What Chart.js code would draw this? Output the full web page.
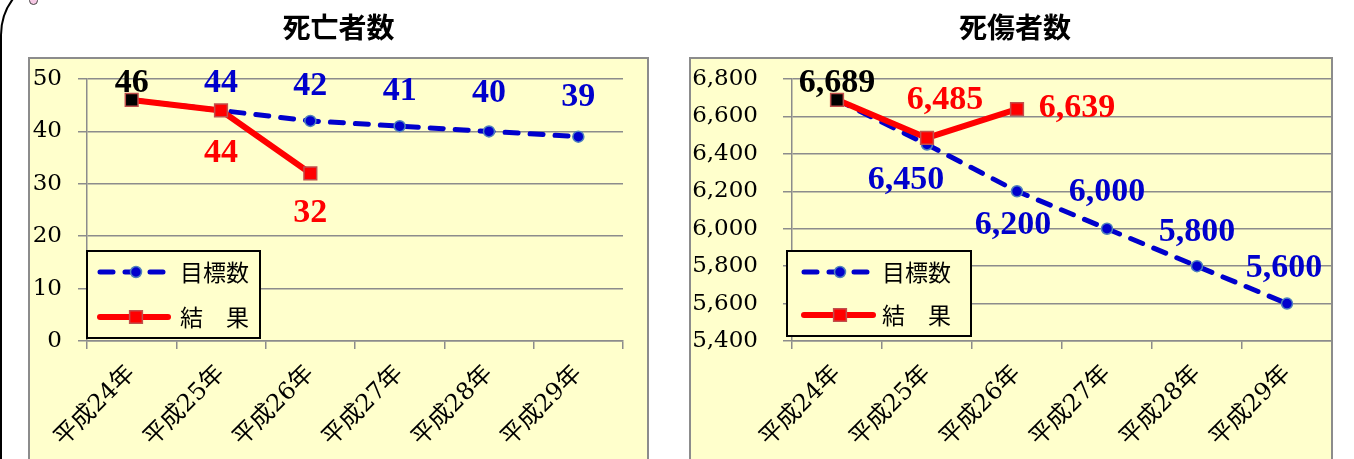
<!DOCTYPE html>
<html><head><meta charset="utf-8">
<script src="https://cdn.jsdelivr.net/npm/chart.js@4.4.1/dist/chart.umd.min.js"></script>
<style>
html,body{margin:0;padding:0;background:#fff;width:1354px;height:459px;overflow:hidden;position:relative;}
#outline{position:absolute;left:0;top:-26px;width:3000px;height:2000px;border:2px solid #000;border-radius:61px;box-sizing:border-box;}
#dot{position:absolute;left:29px;top:-4px;width:7px;height:7px;border:1px solid #444;border-radius:50%;background:#f6c8e4;}
.wrap{position:absolute;top:0;height:459px;}
#w1{left:0;width:670px;}
#w2{left:670px;width:684px;}
canvas{display:block;}
</style></head><body>
<div id="outline"></div><div id="dot"></div>
<div class="wrap" id="w1"><canvas id="c1" width="670" height="459"></canvas></div>
<div class="wrap" id="w2"><canvas id="c2" width="684" height="459"></canvas></div>
<script>
// ---- data ----
const categories = ['平成24年','平成25年','平成26年','平成27年','平成28年','平成29年'];
const seriesNames = ['目標数','結　果'];
const chartTitles = ['死亡者数','死傷者数'];
const deathsTarget = [46, 44, 42, 41, 40, 39];
const deathsResult = [46, 44, 32, null, null, null];
const casualtiesTarget = [6689, 6450, 6200, 6000, 5800, 5600];
const casualtiesResult = [6689, 6485, 6639, null, null, null];
const deathsTicks = [0, 10, 20, 30, 40, 50];
const casualtiesTicks = [5400, 5600, 5800, 6000, 6200, 6400, 6600, 6800];

Chart.defaults.color = '#000';
const GRID = '#8C8C8C';
const BLUE = '#0000CC';
const RED = '#FF0000';

function fmt(v, thousands){ return thousands ? v.toLocaleString('en-US') : String(v); }

function framePlugin(box, title){
  return {id:'frame',
    beforeDraw(chart){
      const ctx = chart.ctx; ctx.save();
      ctx.fillStyle = '#FFFFCC'; ctx.fillRect(box.x, box.y, box.w, box.h);
      ctx.strokeStyle = GRID; ctx.lineWidth = 2; ctx.strokeRect(box.x, box.y, box.w, box.h);
      ctx.fillStyle = '#000'; ctx.font = 'bold 28px "Noto Sans CJK JP"';
      ctx.textAlign = 'center'; ctx.textBaseline = 'middle';
      ctx.fillText(title.text, title.x, title.y);
      ctx.restore();
    }};
}
function legendPlugin(o){
  return {id:'legendBox', afterDatasetsDraw(chart){
    const ctx = chart.ctx; ctx.save();
    ctx.fillStyle = '#FFFFCC'; ctx.fillRect(o.x, o.y, o.w, o.h);
    ctx.strokeStyle = '#000'; ctx.lineWidth = 2; ctx.strokeRect(o.x, o.y, o.w, o.h);
    chart.data.datasets.forEach((ds, i) => {
      const y = o.rows[i];
      ctx.save();
      ctx.strokeStyle = ds.borderColor; ctx.lineWidth = ds.borderWidth; ctx.lineCap = 'round';
      ctx.setLineDash(ds.borderDash || []);
      ctx.beginPath(); ctx.moveTo(o.x0, y); ctx.lineTo(o.x1, y); ctx.stroke();
      ctx.restore();
      ctx.save();
      ctx.fillStyle = ds.backgroundColor; ctx.strokeStyle = ds.pointBorderColor; ctx.lineWidth = ds.pointBorderWidth;
      Chart.helpers.drawPoint(ctx, {pointStyle: ds.pointStyle, radius: ds.pointRadius, borderWidth: ds.pointBorderWidth, rotation: 0}, o.mx, y);
      ctx.restore();
      ctx.fillStyle = '#000'; ctx.font = '23px "Noto Sans CJK JP"'; ctx.textBaseline = 'middle'; ctx.textAlign = 'left';
      ctx.fillText(ds.label, o.tx, y);
    });
    ctx.restore();
  }};
}
function labelsPlugin(items, thousands){
  return {id:'valueLabels', afterDatasetsDraw(chart){
    const ctx = chart.ctx; ctx.save();
    ctx.font = 'bold 34px "Liberation Serif"'; ctx.textAlign = 'center'; ctx.textBaseline = 'middle';
    items.forEach(it => {
      const pt = chart.getDatasetMeta(it.ds).data[it.i];
      const v = chart.data.datasets[it.ds].data[it.i];
      ctx.fillStyle = it.c;
      ctx.fillText(fmt(v, thousands), pt.x + it.dx, pt.y + it.dy);
    });
    ctx.restore();
  }};
}
function targetDs(data){
  return {label: seriesNames[0], data, borderColor: BLUE, backgroundColor: BLUE, borderWidth: 5,
    borderDash: [13, 12], borderCapStyle: 'round', pointStyle: 'circle', pointRadius: 5.5,
    pointBackgroundColor: BLUE, pointBorderColor: '#4F81BD', pointBorderWidth: 1.5, order: 1, tension: 0};
}
function resultDs(data){
  return {label: seriesNames[1], data, borderColor: RED, backgroundColor: RED, borderWidth: 6,
    borderJoinStyle: 'round', pointStyle: 'rect', pointRadius: 9,
    pointBackgroundColor: ['#000000', RED, RED, RED, RED, RED], pointBorderColor: '#C0504D', pointBorderWidth: 1.5, order: 0, tension: 0};
}
function xScale(){
  return {type: 'category', offset: true,
    grid: {offset: true, drawOnChartArea: false, drawTicks: true, tickLength: 8, color: GRID, lineWidth: 1.5},
    border: {display: true, color: GRID, width: 1.5},
    ticks: {minRotation: 45, maxRotation: 45, autoSkip: false, padding: 11, color: '#000',
      font: {family: '"DejaVu Serif","Noto Sans CJK JP"', size: 24}},
    afterFit: s => { s.height = 118; }};
}
function yScale(tickVals, width, pad, thousands){
  return {min: tickVals[0], max: tickVals[tickVals.length - 1],
    grid: {drawTicks: true, tickLength: 9, color: GRID, lineWidth: 1.5},
    border: {display: true, color: GRID, width: 1.5},
    afterBuildTicks: s => { s.ticks = tickVals.map(v => ({value: v})); },
    ticks: {padding: pad, color: '#000', font: {family: '"DejaVu Serif"', size: 23},
      callback: v => fmt(v, thousands)},
    afterFit: s => { s.width = width; }};
}

new Chart(document.getElementById('c1'), {
  type: 'line',
  data: {labels: categories, datasets: [targetDs(deathsTarget), resultDs(deathsResult)]},
  options: {responsive: false, animation: false, devicePixelRatio: 1,
    layout: {padding: {left: 26, right: 47, top: 79, bottom: 0}},
    plugins: {legend: {display: false}, tooltip: {enabled: false}},
    scales: {x: xScale(), y: yScale(deathsTicks, 61, 16, false)}},
  plugins: [
    framePlugin({x: 29, y: 58, w: 619, h: 430}, {text: chartTitles[0], x: 338.5, y: 27}),
    legendPlugin({x: 87, y: 251, w: 173, h: 87, rows: [272, 317], x0: 100, x1: 168, mx: 136, tx: 180}),
    labelsPlugin([
      {ds: 1, i: 0, dx: 0, dy: -17, c: '#000'},
      {ds: 0, i: 1, dx: 0, dy: -27, c: BLUE},
      {ds: 0, i: 2, dx: 0, dy: -35, c: BLUE},
      {ds: 0, i: 3, dx: 0, dy: -35, c: BLUE},
      {ds: 0, i: 4, dx: 0, dy: -38, c: BLUE},
      {ds: 0, i: 5, dx: 0, dy: -39, c: BLUE},
      {ds: 1, i: 1, dx: 0, dy: 43, c: RED},
      {ds: 1, i: 2, dx: 0, dy: 40, c: RED}
    ], false)
  ]
});

new Chart(document.getElementById('c2'), {
  type: 'line',
  data: {labels: categories, datasets: [targetDs(casualtiesTarget), resultDs(casualtiesResult)]},
  options: {responsive: false, animation: false, devicePixelRatio: 1,
    layout: {padding: {left: 16, right: 22, top: 79, bottom: 0}},
    plugins: {legend: {display: false}, tooltip: {enabled: false}},
    scales: {x: xScale(), y: yScale(casualtiesTicks, 106, 25, true)}},
  plugins: [
    framePlugin({x: 20, y: 58, w: 642, h: 430}, {text: chartTitles[1], x: 345, y: 27}),
    legendPlugin({x: 117, y: 251, w: 184, h: 85, rows: [272, 315], x0: 134, x1: 203, mx: 170, tx: 212}),
    labelsPlugin([
      {ds: 1, i: 0, dx: 0, dy: -17, c: '#000'},
      {ds: 1, i: 1, dx: 18, dy: -38, c: RED},
      {ds: 1, i: 2, dx: 60, dy: -1, c: RED},
      {ds: 0, i: 1, dx: -21, dy: 36, c: BLUE},
      {ds: 0, i: 2, dx: -4, dy: 34, c: BLUE},
      {ds: 0, i: 3, dx: 0, dy: -36, c: BLUE},
      {ds: 0, i: 4, dx: 0, dy: -34, c: BLUE},
      {ds: 0, i: 5, dx: -3, dy: -35, c: BLUE}
    ], true)
  ]
});
</script>
</body></html>
